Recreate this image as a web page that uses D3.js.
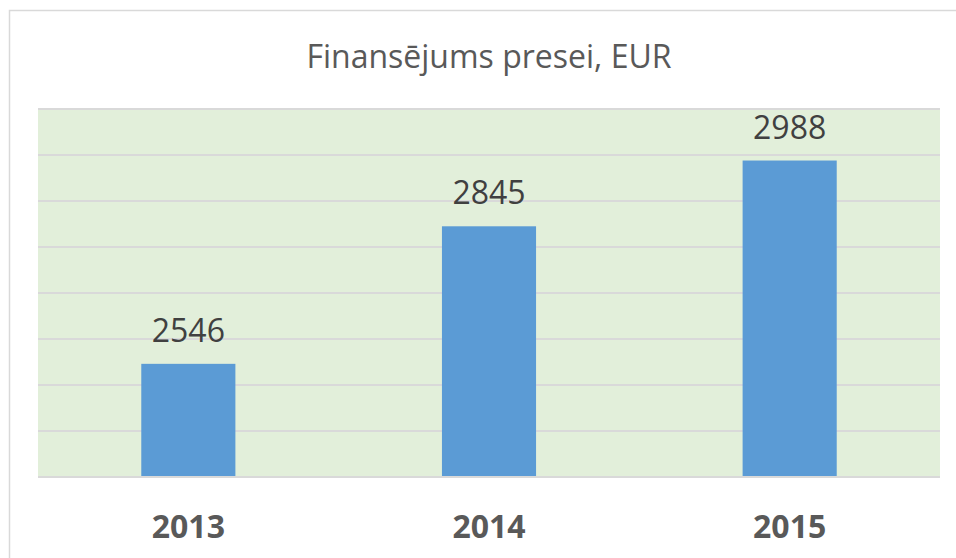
<!DOCTYPE html>
<html>
<head>
<meta charset="utf-8">
<script src="https://cdn.jsdelivr.net/npm/d3@7"></script>
<style>
    body { margin: 0; background: #fff; }
    svg { display: block; font-family: "Open Sans", sans-serif; }
</style>
</head>
<body>
<div id="chart"></div>
<script>
// Data
const years = ['2013', '2014', '2015'];
const values = [2546, 2845, 2988];
const yTicks = [2300, 2400, 2500, 2600, 2700, 2800, 2900, 3000, 3100];
const chartTitle = 'Finansējums presei, EUR';

const width = 956, height = 558;
const margin = { top: 109, right: 16, bottom: 81, left: 38 };
const plotW = width - margin.left - margin.right;
const plotH = height - margin.top - margin.bottom;

const svg = d3.select('#chart')
    .append('svg')
    .attr('width', width)
    .attr('height', height);

// outer chart border (only top and left visible in the picture)
svg.append('rect')
    .attr('x', 9.5)
    .attr('y', 10.5)
    .attr('width', 960)
    .attr('height', 600)
    .attr('fill', 'none')
    .attr('stroke', '#d9d9d9')
    .attr('stroke-width', 1.5);

svg.append('text')
    .attr('x', 489)
    .attr('y', 68)
    .attr('text-anchor', 'middle')
    .attr('fill', '#595959')
    .style('font-size', '32px')
    .style('font-weight', 400)
    .text(chartTitle);

const g = svg.append('g')
    .attr('transform', `translate(${margin.left},${margin.top})`);

const x = d3.scaleBand()
    .domain(years)
    .range([0, plotW])
    .paddingInner(0.687)
    .paddingOuter(0.3435);

const y = d3.scaleLinear()
    .domain([d3.min(yTicks), d3.max(yTicks)])
    .range([plotH, 0]);

// plot background
g.append('rect')
    .attr('width', plotW)
    .attr('height', plotH)
    .attr('fill', '#e2efda');

// gridlines
g.append('g')
    .selectAll('line')
    .data(yTicks)
    .enter()
    .append('line')
    .attr('x1', 0)
    .attr('x2', plotW)
    .attr('y1', d => y(d))
    .attr('y2', d => y(d))
    .attr('stroke', '#d9d9d9')
    .attr('stroke-width', 2);

g.selectAll('.bar')
    .data(years)
    .enter()
    .append('rect')
    .attr('class', 'bar')
    .attr('x', d => x(d))
    .attr('y', (d, i) => y(values[i]))
    .attr('width', x.bandwidth())
    .attr('height', (d, i) => plotH - y(values[i]) - 1)
    .attr('fill', '#5b9bd5');

// value labels
g.selectAll('.val')
    .data(years)
    .enter()
    .append('text')
    .attr('class', 'val')
    .attr('x', d => x(d) + x.bandwidth() / 2)
    .attr('y', (d, i) => y(values[i]) - 22)
    .attr('text-anchor', 'middle')
    .attr('fill', '#404040')
    .style('font-size', '32px')
    .text((d, i) => values[i]);

// x axis labels
const xAxis = g.append('g')
    .attr('transform', `translate(0,${plotH})`)
    .call(d3.axisBottom(x).tickSize(0).tickPadding(0));
xAxis.select('.domain').remove();
xAxis.selectAll('text')
    .attr('dy', null)
    .attr('y', 61)
    .attr('fill', '#595959')
    .style('font-family', '"Open Sans", sans-serif')
    .style('font-size', '32px')
    .style('font-weight', 'bold');
</script>
</body>
</html>
